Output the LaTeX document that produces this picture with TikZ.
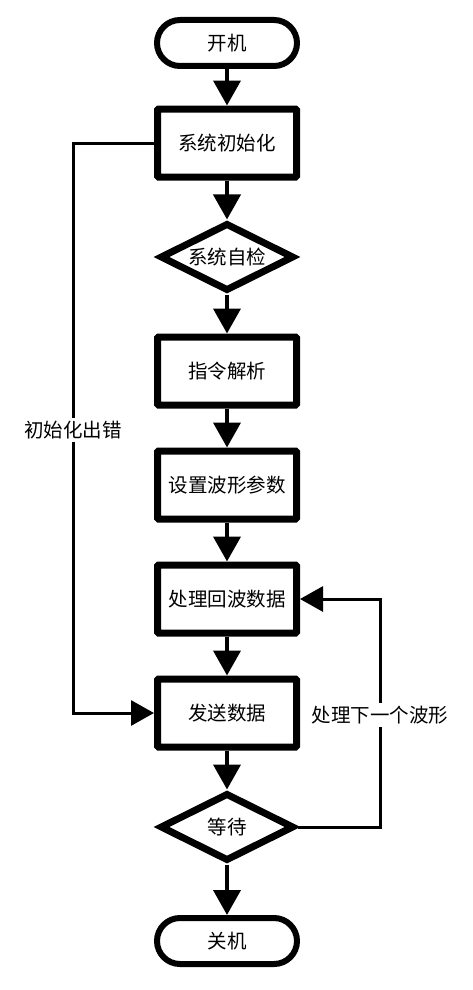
\documentclass[tikz,border=0pt]{standalone}
\usepackage{fontspec}
\newfontfamily\cjk{Noto Sans CJK SC}
\usepackage{tikz}
\usetikzlibrary{positioning}
\usetikzlibrary{arrows.meta}
\usetikzlibrary{shapes.geometric}

\begin{document}
\begin{tikzpicture}[x=1pt, y=1pt, node distance=114pt,
    font=\cjk\fontsize{19.5}{22}\selectfont,
    terminal/.style={draw, rectangle, rounded corners=23pt, minimum width=140pt, minimum height=46pt, line width=6pt},
    process/.style={draw, rectangle, rounded corners=1pt, minimum width=139pt, minimum height=68pt, line width=7pt},
    decision/.style={draw, diamond, aspect=2, inner sep=0pt, minimum width=134pt, minimum height=68pt, line width=7pt},
    flow/.style={-{Triangle[length=25pt, width=27pt]}, line width=4pt},
    back/.style={-{Triangle[length=23pt, width=25pt]}, line width=3pt}]
    \useasboundingbox (0,0) rectangle (472,-990);

    % Nodes of the main flow
    \node (start) [terminal] at (227,-43) {开机};
    \node (init) [process, node distance=100pt, below of=start] {系统初始化};
    \node (selfcheck) [decision, below of=init] {系统自检};
    \node (parse) [process, below of=selfcheck] {指令解析};
    \node (setwave) [process, below of=parse] {设置波形参数};
    \node (echo) [process, below of=setwave] {处理回波数据};
    \node (send) [process, below of=echo] {发送数据};
    \node (wait) [decision, below of=send] {等待};
    \node (stop) [terminal, below of=wait] {关机};

    % Arrows down the main flow
    \draw[flow] (start) -- (init);
    \draw[flow] (init) -- (selfcheck);
    \draw[flow] (selfcheck) -- (parse);
    \draw[flow] (parse) -- (setwave);
    \draw[flow] (setwave) -- (echo);
    \draw[flow] (echo) -- (send);
    \draw[flow] (send) -- (wait);
    \draw[flow] (wait) -- (stop);

    % Side paths
    \coordinate (errpath) at (73,-430);
    \coordinate (nextpath) at (380,-715);
    \draw[back] (init.west) -| (errpath) |- (send.west);
    \draw[back] (wait.east) -| (nextpath) |- (echo.east);
    \node (errlabel) [fill=white] at (errpath) {初始化出错};
    \node (nextlabel) [fill=white] at (nextpath) {处理下一个波形};
\end{tikzpicture}
\end{document}
